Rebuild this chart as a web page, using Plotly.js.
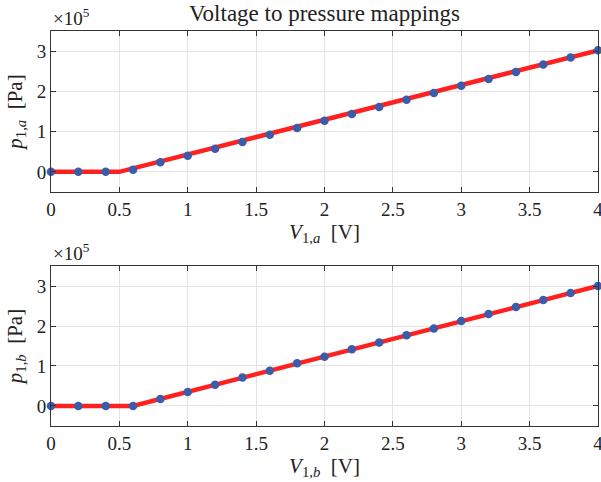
<!DOCTYPE html>
<html>
<head>
<meta charset="utf-8">
<script src="https://cdn.plot.ly/plotly-3.0.1.min.js"></script>
<style>html,body{margin:0;padding:0;background:#fff;}#chart{width:601px;height:482px;}</style>
</head>
<body>
<div id="chart"></div>
<script>
// Sample voltages [V]
const voltages = [0, 0.2, 0.4, 0.6, 0.8, 1.0, 1.2, 1.4, 1.6, 1.8, 2.0, 2.2, 2.4, 2.6, 2.8, 3.0, 3.2, 3.4, 3.6, 3.8, 4.0];
// Measured pressures (x1e5 Pa)
const pressureA = [0, 0, 0, 0.05, 0.24, 0.40, 0.575, 0.74, 0.925, 1.09, 1.27, 1.44, 1.61, 1.79, 1.96, 2.14, 2.31, 2.48, 2.67, 2.84, 3.02];
const pressureB = [0, 0, 0, 0, 0.175, 0.35, 0.53, 0.71, 0.88, 1.07, 1.23, 1.42, 1.59, 1.77, 1.94, 2.125, 2.30, 2.475, 2.65, 2.825, 3.0];
// Fitted mapping lines
const mapVA = [0, 0.5, 4];
const mapPA = [0, 0, 3.02];
const mapVB = [0, 0.6, 4];
const mapPB = [0, 0, 3.0];
const xTicks = [0, 0.5, 1, 1.5, 2, 2.5, 3, 3.5, 4];
const xTickText = ["0", "0.5", "1", "1.5", "2", "2.5", "3", "3.5", "4"];
const yTicks = [0, 1, 2, 3];

const scale = 1e5;
const sc = a => a.map(v => v * scale);

const lineStyle = {color: 'rgb(255,32,32)', width: 4.5};
const markerStyle = {color: 'rgb(58,92,170)', size: 8.5};
const FONT = 'Liberation Serif, DejaVu Serif, serif';

const traces = [
  {x: mapVA, y: sc(mapPA), mode: 'lines', line: lineStyle, xaxis: 'x', yaxis: 'y', cliponaxis: false, hoverinfo: 'skip'},
  {x: voltages, y: sc(pressureA), mode: 'markers', marker: markerStyle, xaxis: 'x', yaxis: 'y', cliponaxis: false},
  {x: mapVB, y: sc(mapPB), mode: 'lines', line: lineStyle, xaxis: 'x2', yaxis: 'y2', cliponaxis: false, hoverinfo: 'skip'},
  {x: voltages, y: sc(pressureB), mode: 'markers', marker: markerStyle, xaxis: 'x2', yaxis: 'y2', cliponaxis: false}
];

function xAxis(anchor, title) {
  return {
    anchor: anchor, domain: [0, 1], range: [0, 4],
    tickmode: 'array', tickvals: xTicks, ticktext: xTickText,
    ticks: 'inside', ticklen: 5, tickcolor: '#333', tickwidth: 1,
    showline: true, linecolor: '#333', linewidth: 1, mirror: 'ticks',
    showgrid: true, gridcolor: '#e3e3e3', gridwidth: 1, zeroline: false,
    ticklabeloverflow: 'allow',
    tickfont: {family: FONT, size: 19, color: '#222'},
    title: {text: title, font: {family: FONT, size: 21, color: '#222'}, standoff: 4}
  };
}
function yAxis(anchor, domain, title) {
  return {
    anchor: anchor, domain: domain, range: [-0.5 * scale, 3.5 * scale],
    tickmode: 'array', tickvals: sc(yTicks), ticktext: yTicks.map(String),
    ticks: 'inside', ticklen: 5, tickcolor: '#333', tickwidth: 1,
    showline: true, linecolor: '#333', linewidth: 1, mirror: 'ticks',
    showgrid: true, gridcolor: '#e3e3e3', gridwidth: 1, zeroline: false,
    ticklabeloverflow: 'allow',
    tickfont: {family: FONT, size: 19, color: '#222'},
    title: {text: title, font: {family: FONT, size: 21, color: '#222'}, standoff: 8}
  };
}

const layout = {
  width: 601, height: 482,
  margin: {l: 51, r: 3, t: 0, b: 0},
  paper_bgcolor: '#fff', plot_bgcolor: '#fff',
  showlegend: false,
  title: {text: 'Voltage to pressure mappings', font: {family: FONT, size: 23, color: '#222'},
          x: 0.5, xref: 'paper', xanchor: 'center', y: 1 - 13/482, yref: 'container', yanchor: 'middle'},
  xaxis: xAxis('y', '<i>V</i><sub>1,<i>a</i></sub>&nbsp;&nbsp;[V]'),
  yaxis: yAxis('x', [0.6017, 0.9357], '<i>p</i><sub>1,<i>a</i></sub>&nbsp;&nbsp;[Pa]'),
  xaxis2: xAxis('y2', '<i>V</i><sub>1,<i>b</i></sub>&nbsp;&nbsp;[V]'),
  yaxis2: yAxis('x2', [0.1162, 0.4481], '<i>p</i><sub>1,<i>b</i></sub>&nbsp;&nbsp;[Pa]'),
  annotations: [
    {text: '×10<sup>5</sup>', xref: 'paper', yref: 'paper', x: 0, y: 0.9357, xanchor: 'left', yanchor: 'bottom',
     showarrow: false, font: {family: FONT, size: 19, color: '#222'}, yshift: 0},
    {text: '×10<sup>5</sup>', xref: 'paper', yref: 'paper', x: 0, y: 0.4481, xanchor: 'left', yanchor: 'bottom',
     showarrow: false, font: {family: FONT, size: 19, color: '#222'}, yshift: 0}
  ]
};

Plotly.newPlot('chart', traces, layout, {displayModeBar: false, staticPlot: true});
</script>
</body>
</html>
